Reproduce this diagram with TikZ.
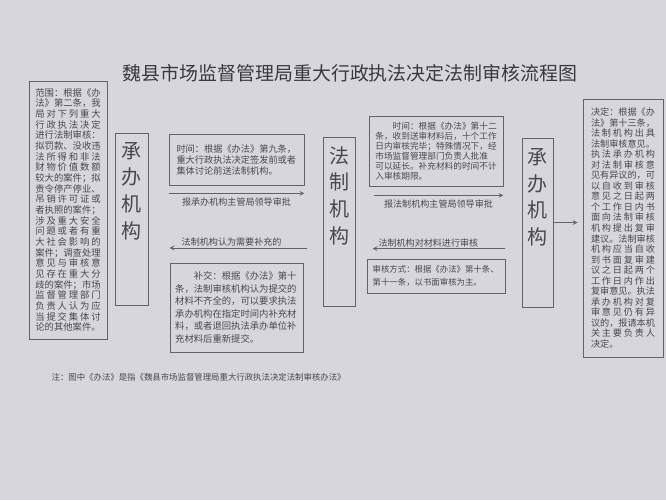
\documentclass[tikz,border=0pt]{standalone}
\usepackage{fontspec}
\setmainfont{Noto Sans CJK SC}
\usepackage{tikz}
\usetikzlibrary{arrows}
\usetikzlibrary{positioning,calc}
\XeTeXlinebreaklocale "zh"
\XeTeXlinebreakskip = 0pt plus 1pt
\definecolor{paper}{RGB}{214,214,220}
\definecolor{ink}{RGB}{72,72,78}
\definecolor{frame}{RGB}{98,98,104}
\def\jlfirst#1{#1\jlrest}
\def\jlrest#1{\ifx#1\relax\else\hfill#1\expandafter\jlrest\fi}
\newcommand{\jl}[1]{\makebox[\linewidth][s]{\jlfirst#1\relax}}

\begin{document}
\begin{tikzpicture}[x=0.75pt, y=-0.75pt]
	%defines
	\tikzstyle{textBox} = [rectangle, draw=frame, line width=0.6pt, text=ink, inner sep=0pt, align=left]
	\tikzstyle{orgBox} = [rectangle, draw=frame, line width=0.6pt]
	\tikzstyle{orgText} = [text=ink, inner sep=0pt, align=center, font=\fontsize{15}{20}\selectfont]
	\tikzstyle{arrowText} = [text=ink, inner sep=1pt, font=\fontsize{6.8}{8}\selectfont]
	\tikzstyle{arrow} = [frame, line width=0.6pt, ->, >=stealth]
	\fill [paper] (0,0) rectangle (666,500);
	\useasboundingbox (0,0) rectangle (666,500);
	%chart
	\node (title) [text=ink!80!black, font=\fontsize{14.2}{16}\selectfont] at (350,73) {魏县市场监督管理局重大行政执法决定法制审核流程图};
	\node (fanwei) [textBox, minimum width=58.5pt, minimum height=193.5pt, text width=49pt, font=\fontsize{7}{8}\selectfont] at (68,210) {\jl{范围：根据《办}\\\jl{法》第二条，我}\\\jl{局对下列重大}\\\jl{行政执法决定}\\\jl{进行法制审核：}\\\jl{拟罚款、没收违}\\\jl{法所得和非法}\\\jl{财物价值数额}\\\jl{较大的案件；拟}\\\jl{责令停产停业、}\\\jl{吊销许可证或}\\\jl{者执照的案件；}\\\jl{涉及重大安全}\\\jl{问题或者有重}\\\jl{大社会影响的}\\\jl{案件；调查处理}\\\jl{意见与审核意}\\\jl{见存在重大分}\\\jl{歧的案件；市场}\\\jl{监督管理部门}\\\jl{负责人认为应}\\\jl{当提交集体讨}\\\jl{论的其他案件。}};
	\node (chengbanA) [orgBox, minimum width=24.75pt, minimum height=129pt] at (131.5,219) {};
	\node (chengbanAText) [orgText, below=7pt of chengbanA.north] {承\\办\\机\\构};
	\node (shijianA) [textBox, minimum width=101.25pt, minimum height=38.25pt, text width=90pt, font=\fontsize{6.9}{8.25}\selectfont] at (236.5,159.5) {时间：根据《办法》第九条，\\重大行政执法决定签发前或者\\集体讨论前送法制机构。};
	\node (bujiao) [textBox, minimum width=99.75pt, minimum height=66.75pt, text width=92pt, font=\fontsize{7}{9.45}\selectfont] at (236.5,307.5) {\hspace*{2em}补交：根据《办法》第十\\条，法制审核机构认为提交的\\材料不齐全的，可以要求执法\\承办机构在指定时间内补充材\\料，或者退回执法承办单位补\\充材料后重新提交。};
	\node (fazhi) [orgBox, minimum width=24pt, minimum height=126.75pt] at (339,221.5) {};
	\node (fazhiText) [orgText, below=7pt of fazhi.north] {法\\制\\机\\构};
	\node (shijianB) [textBox, minimum width=100.5pt, minimum height=52.5pt, text width=91pt, font=\fontsize{6.5}{7.5}\selectfont] at (436,151) {\hspace*{2em}时间：根据《办法》第十二\\条，收到送审材料后，十个工作\\日内审核完毕；特殊情况下，经\\市场监督管理部门负责人批准\\可以延长。补充材料的时间不计\\入审核期限。};
	\node (shenhe) [textBox, minimum width=103.5pt, minimum height=25.5pt, text width=95pt, font=\fontsize{6.3}{9.75}\selectfont] at (436,276) {审核方式：根据《办法》第十条、\\第十一条，以书面审核为主。};
	\node (chengbanB) [orgBox, minimum width=23.25pt, minimum height=126.75pt] at (537.5,222.5) {};
	\node (chengbanBText) [orgText, below=8pt of chengbanB.north] {承\\办\\机\\构};
	\node (jueding) [textBox, minimum width=60pt, minimum height=193.5pt, text width=48pt, font=\fontsize{6.85}{7.9}\selectfont] at (623,228) {\jl{决定：根据《办}\\\jl{法》第十三条，}\\\jl{法制机构出具}\\\jl{法制审核意见。}\\\jl{执法承办机构}\\\jl{对法制审核意}\\\jl{见有异议的，可}\\\jl{以自收到审核}\\\jl{意见之日起两}\\\jl{个工作日内书}\\\jl{面向法制审核}\\\jl{机构提出复审}\\\jl{建议。法制审核}\\\jl{机构应当自收}\\\jl{到书面复审建}\\\jl{议之日起两个}\\\jl{工作日内作出}\\\jl{复审意见。执法}\\\jl{承办机构对复}\\\jl{审意见仍有异}\\\jl{议的，报请本机}\\\jl{关主要负责人}\\决定。};
	\node (note) [arrowText, anchor=west, font=\fontsize{6.3}{8}\selectfont] at (50,377) {注：图中《办法》是指《魏县市场监督管理局重大行政执法决定法制审核办法》};
	\draw [arrow] ([yshift=-6pt]shijianA.south west) -- ([yshift=-6pt]shijianA.south east) node [arrowText, midway, below=2pt] {报承办机构主管局领导审批};
	\draw [arrow] ([xshift=3pt,yshift=11pt]bujiao.north east) -- ([yshift=11pt]bujiao.north west) node [arrowText, pos=0.55, above=0pt] {法制机构认为需要补充的};
	\draw [arrow] ([xshift=3.75pt,yshift=-6.75pt]shijianB.south west) -- ([yshift=-6.75pt]shijianB.south east) node [arrowText, midway, below=2pt] {报法制机构主管局领导审批};
	\draw [arrow] ([yshift=7.5pt]shenhe.north east) -- ([xshift=4.5pt,yshift=7.5pt]shenhe.north west) node [arrowText, pos=0.58, above=0pt] {法制机构对材料进行审核};
	\draw [arrow, shorten >=3.75pt] (chengbanB.east) -- (chengbanB.east -| jueding.west);
\end{tikzpicture}
\end{document}
